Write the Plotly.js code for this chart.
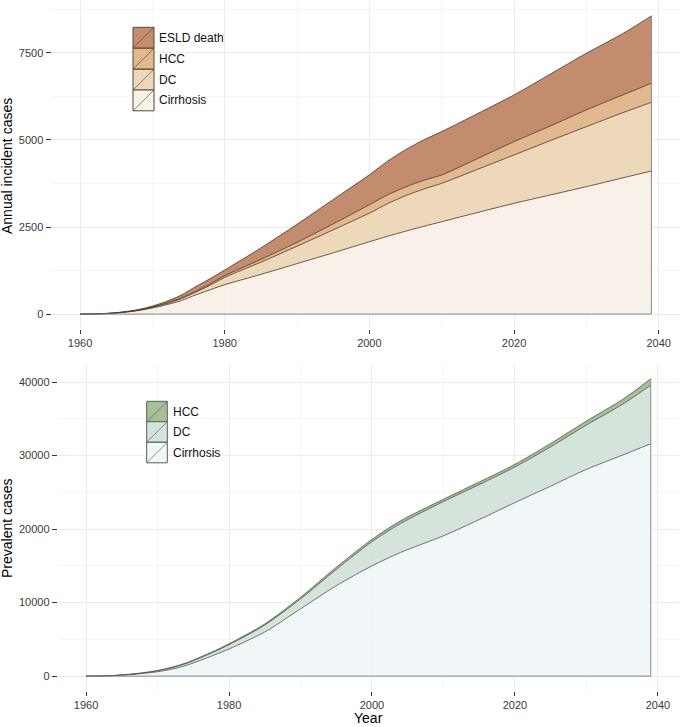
<!DOCTYPE html>
<html><head><meta charset="utf-8">
<script src="https://cdn.plot.ly/plotly-3.0.1.min.js"></script>
<style>html,body{margin:0;padding:0;background:#fff}#chart{width:680px;height:727px}</style>
</head><body><div id="chart"></div>
<script>
// ---- Annual incident cases (top panel) ----
const yearsIncident = [1960,1962,1964,1966,1968,1970,1972,1974,1976,1978,1980,1985,1990,1995,2000,2002.5,2005,2007.5,2010,2015,2020,2025,2030,2035,2039];
const incCirrhosis = [0,4,18,50,100,175,270,390,550,700,845,1140,1450,1760,2078,2235,2380,2520,2653,2920,3181,3420,3659,3910,4110];
const incDC        = [0,1,2,5,10,20,35,55,80,130,209,350,500,660,822,935,1020,1070,1103,1240,1389,1560,1724,1870,1973];
const incHCC       = [0,0,1,3,5,10,15,23,30,40,48,80,110,170,240,250,250,250,239,310,383,420,480,510,547];
const incESLD      = [0,1,3,6,13,25,50,77,130,150,163,330,520,700,860,970,1070,1160,1245,1290,1341,1490,1627,1760,1933];

// ---- Prevalent cases (bottom panel) ----
const yearsPrevalent = [1960,1962,1964,1966,1968,1970,1972,1974,1976,1978,1980,1985,1990,1995,2000,2004,2010,2015,2020,2025,2030,2035,2039];
const prevCirrhosis = [0,20,80,200,380,600,950,1450,2150,2900,3700,6000,9150,12300,15000,16830,19090,21300,23610,25850,28130,30050,31620];
const prevDC        = [0,2,10,30,60,120,200,270,350,450,580,950,1350,2200,3300,3930,4660,4750,4850,5350,6030,6900,7960];
const prevHCC       = [0,1,5,10,20,50,70,80,100,100,120,150,220,300,300,370,310,350,350,450,540,650,860];

// ---- Labels / ticks ----
const xTicks = [1960,1980,2000,2020,2040];
const incTicks = [0,2500,5000,7500];
const prevTicks = [0,10000,20000,30000,40000];
const incNames = ["Cirrhosis","DC","HCC","ESLD death"];
const prevNames = ["Cirrhosis","DC","HCC"];

const W = 680, H = 727;
const px = v => v / W;
const py = v => 1 - v / H;

const incColors = ["rgba(246,240,232,0.9)","rgba(235,212,179,0.9)","rgba(223,177,131,0.9)","rgba(189,128,94,0.9)"];
const incSolid  = ["#F7F2EA","#EDD8BB","#E2B98F","#C48D6E"];
const prevColors = ["rgba(239,245,248,0.9)","rgba(207,225,215,0.9)","rgba(157,184,139,0.9)"];
const prevSolid  = ["#F1F6F9","#D4E4DB","#A7BF97"];
const incLine = "#4b3525", prevLine = "#4a5548";

const incSeries = [incCirrhosis, incDC, incHCC, incESLD];
const prevSeries = [prevCirrhosis, prevDC, prevHCC];

const traces = [];
incSeries.forEach((s, i) => traces.push({
  type: "scatter", mode: "lines", x: yearsIncident, y: s, name: incNames[i],
  stackgroup: "inc", fillcolor: incColors[i], line: {color: incLine, width: 0.8, shape: "spline", smoothing: 0.8},
  xaxis: "x", yaxis: "y", showlegend: false, hoverinfo: "skip"
}));
prevSeries.forEach((s, i) => traces.push({
  type: "scatter", mode: "lines", x: yearsPrevalent, y: s, name: prevNames[i],
  stackgroup: "prev", fillcolor: prevColors[i], line: {color: prevLine, width: 0.8, shape: "spline", smoothing: 0.8},
  xaxis: "x2", yaxis: "y2", showlegend: false, hoverinfo: "skip"
}));

// polygon outline (baseline and right edge) derived from data
const lastI = yearsIncident.length - 1;
const incTotalLast = incSeries.reduce((a, s) => a + s[lastI], 0);
traces.push({type:"scatter", mode:"lines", x:[yearsIncident[0], yearsIncident[lastI], yearsIncident[lastI]], y:[0,0,incTotalLast],
  line:{color:"#8a8a8a", width:1}, xaxis:"x", yaxis:"y", showlegend:false, hoverinfo:"skip"});
const lastP = yearsPrevalent.length - 1;
const prevTotalLast = prevSeries.reduce((a, s) => a + s[lastP], 0);
traces.push({type:"scatter", mode:"lines", x:[yearsPrevalent[0], yearsPrevalent[lastP], yearsPrevalent[lastP]], y:[0,0,prevTotalLast],
  line:{color:"#8a8a8a", width:1}, xaxis:"x2", yaxis:"y2", showlegend:false, hoverinfo:"skip"});

const tickFont = {family: "Liberation Sans, Arial, sans-serif", size: 11, color: "#3a3a3a"};
const gridC = "#ebebeb", minorC = "#f5f5f5";
function xax(domain, anchor) {
  return {domain, anchor, range: [1956.05, 2042.95], tickmode: "array", tickvals: xTicks, ticktext: xTicks.map(String),
    ticks: "outside", ticklen: 4, tickwidth: 1, tickcolor: "#333", tickfont: tickFont,
    showgrid: true, gridcolor: gridC, gridwidth: 1, zeroline: false, showline: false,
    minor: {tickmode: "linear", tick0: 1950, dtick: 10, showgrid: true, gridcolor: minorC, gridwidth: 1, ticks: ""}};
}
function yax(domain, anchor, range, tv, minorD) {
  return {domain, anchor, range, tickmode: "array", tickvals: tv, ticktext: tv.map(String),
    ticks: "outside", ticklen: 5, tickwidth: 1, tickcolor: "#333", tickfont: tickFont,
    showgrid: true, gridcolor: gridC, gridwidth: 1, zeroline: false, showline: false,
    minor: {tickmode: "linear", tick0: 0, dtick: minorD, showgrid: true, gridcolor: minorC, gridwidth: 1, ticks: ""}};
}

const shapes = [], annotations = [];
function legend(names, fills, borderC, diagC, x0, x1, rowTops, rowH, textX) {
  names.forEach((n, i) => {
    const t = rowTops[i], b = t + rowH;
    shapes.push({type: "rect", xref: "paper", yref: "paper", x0: px(x0), x1: px(x1), y0: py(b), y1: py(t),
      fillcolor: fills[i], line: {color: borderC, width: 1}});
    shapes.push({type: "line", xref: "paper", yref: "paper", x0: px(x0), x1: px(x1), y0: py(b), y1: py(t),
      line: {color: diagC, width: 0.8}});
    annotations.push({xref: "paper", yref: "paper", x: px(textX), y: py(t + rowH / 2), xanchor: "left", yanchor: "middle",
      text: n, showarrow: false, font: {family: "Liberation Sans, Arial, sans-serif", size: 12, color: "#111"}});
  });
}
legend(["ESLD death","HCC","DC","Cirrhosis"], [incSolid[3], incSolid[2], incSolid[1], incSolid[0]],
  "#5a4535", "rgba(75,53,37,0.75)", 133, 154, [27.3, 48.3, 69.3, 90], 20.8, 157);
legend(["HCC","DC","Cirrhosis"], [prevSolid[2], prevSolid[1], prevSolid[0]],
  "#55605a", "rgba(74,85,72,0.75)", 146.7, 167.3, [401.3, 421.7, 442.3], 20.5, 170.5);

const titleFont = {family: "Liberation Sans, Arial, sans-serif", size: 14, color: "#000"};
annotations.push({xref:"paper", yref:"paper", x: px(7), y: py(166), text: "Annual incident cases", textangle: -90,
  showarrow: false, font: titleFont, xanchor: "center", yanchor: "middle"});
annotations.push({xref:"paper", yref:"paper", x: px(7), y: py(528), text: "Prevalent cases", textangle: -90,
  showarrow: false, font: titleFont, xanchor: "center", yanchor: "middle"});
annotations.push({xref:"paper", yref:"paper", x: px(368), y: py(718), text: "Year",
  showarrow: false, font: titleFont, xanchor: "center", yanchor: "middle"});

const layout = {
  width: W, height: H, margin: {l: 0, r: 0, t: 0, b: 0},
  paper_bgcolor: "#fff", plot_bgcolor: "#fff", showlegend: false,
  xaxis: xax([51.5 / W, 1], "y"),
  yaxis: yax([1 - 329 / H, 1 - 1 / H], "x", [-428, 8991], incTicks, 1250),
  xaxis2: xax([57.8 / W, 679 / W], "y2"),
  yaxis2: yax([1 - 691 / H, 1 - 364 / H], "x2", [-2022, 42462], prevTicks, 5000),
  shapes, annotations
};
Plotly.newPlot("chart", traces, layout, {displayModeBar: false, staticPlot: true});
</script>
</body></html>
